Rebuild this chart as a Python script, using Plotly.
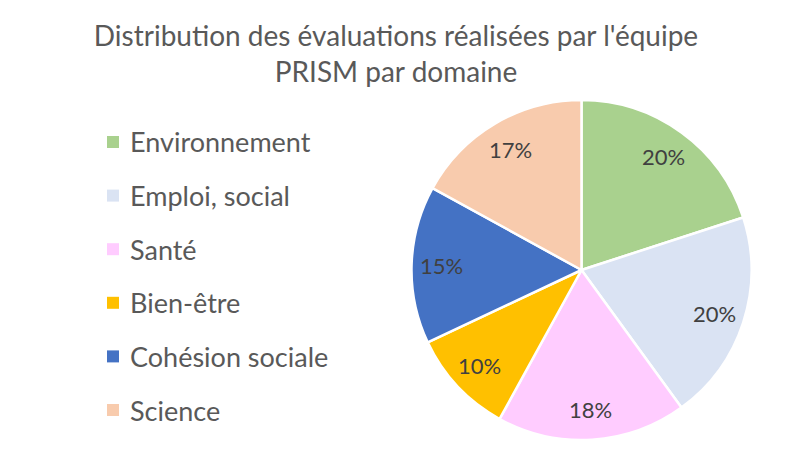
import math
import plotly.graph_objects as go

# domains and their share of the evaluations (%)
labels = ["Environnement", "Emploi, social", "Santé", "Bien-être", "Cohésion sociale", "Science"]
values = [20, 20, 18, 10, 15, 17]
colors = ["#A9D18E", "#DAE3F3", "#FFCCFF", "#FFC000", "#4472C4", "#F8CBAD"]

W, H = 791, 450
OFF = 8  # page body margin pushes the plot down/right
font = "Lato"


def px(sx):
    return (sx - OFF) / W


def py(sy):
    return 1 - (sy - OFF) / H


# pie box in screen pixels
left, right, top, bottom = 411, 752, 100, 440
cx, cy = (left + right) / 2, (top + bottom) / 2
rad = (right - left) / 2

fig = go.Figure(go.Pie(
    labels=labels,
    values=values,
    sort=False,
    direction="clockwise",
    rotation=0,
    marker=dict(colors=colors, line=dict(color="white", width=2.5)),
    textinfo="none",
    domain=dict(x=[px(left), px(right)], y=[py(bottom), py(top)]),
    showlegend=False,
    hoverinfo="label+percent",
))

# percentage labels placed further out than plotly's inside text
total = sum(values)
cum = 0
for v in values:
    mid = (cum + v / 2) / total * 2 * math.pi
    cum += v
    lx = cx + 0.82 * rad * math.sin(mid)
    ly = cy - 0.82 * rad * math.cos(mid)
    fig.add_annotation(text=f"{round(v / total * 100)}%", xref="paper", yref="paper",
                       x=px(lx), y=py(ly), xanchor="center", yanchor="middle",
                       showarrow=False,
                       font=dict(family=font, size=22, color="#404040"))

# hand-drawn legend so the row spacing matches
for i, (lab, col) in enumerate(zip(labels, colors)):
    yc = 142 + i * 53.6
    fig.add_shape(type="rect", xref="paper", yref="paper",
                  x0=px(107), x1=px(119),
                  y0=py(yc + 6), y1=py(yc - 6),
                  fillcolor=col, line=dict(width=0))
    fig.add_annotation(text=lab, xref="paper", yref="paper",
                       x=px(128), y=py(yc), xanchor="left", yanchor="middle",
                       showarrow=False,
                       font=dict(family=font, size=27, color="#595959"))

fig.update_layout(
    width=W, height=H,
    margin=dict(l=0, r=0, t=0, b=0),
    paper_bgcolor="white",
    title=dict(
        text="Distribution des évaluations réalisées par l'équipe<br>PRISM par domaine",
        x=px(396), xanchor="center", y=py(46), yanchor="top",
        font=dict(family=font, size=28, color="#595959"),
    ),
)

fig.write_html("out.html")
